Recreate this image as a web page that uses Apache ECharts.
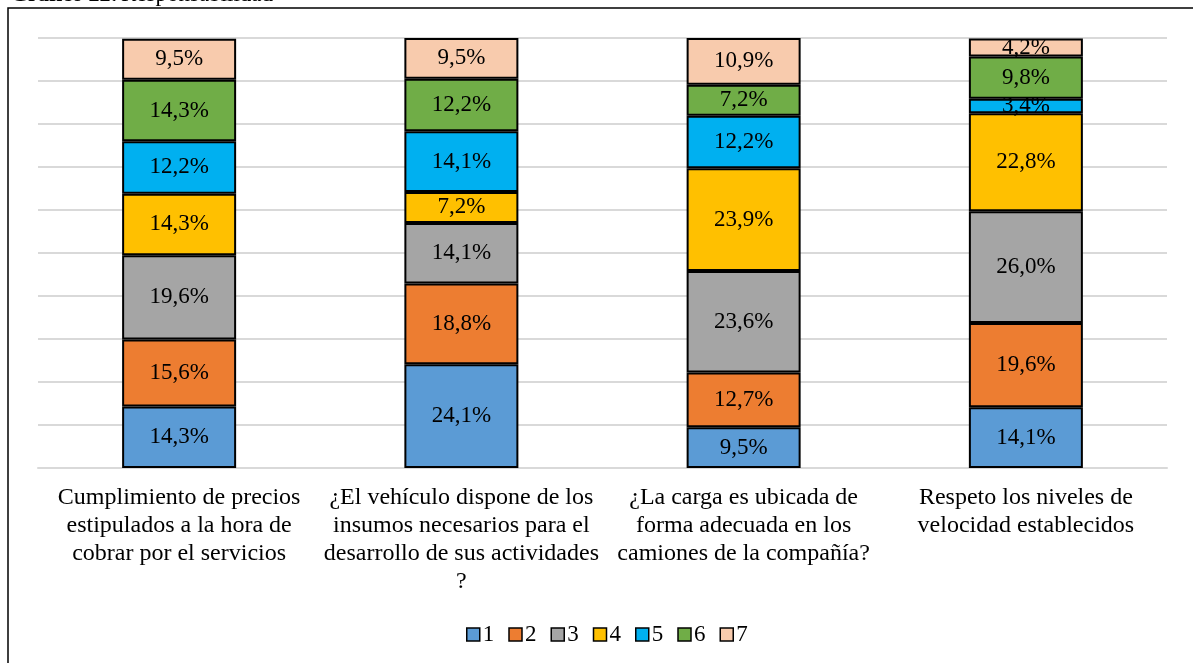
<!DOCTYPE html>
<html>
<head>
<meta charset="utf-8">
<script src="https://cdn.jsdelivr.net/npm/echarts@6/dist/echarts.min.js"></script>
<style>
html,body{margin:0;padding:0;background:#fff;}
#chart{width:1193px;height:663px;}
</style>
</head>
<body>
<div id="chart"></div>
<script>
const categories = [
  "Cumplimiento de precios\nestipulados a la hora de\ncobrar por el servicios",
  "¿El vehículo dispone de los\ninsumos necesarios para el\ndesarrollo de sus actividades\n?",
  "¿La carga es ubicada de\nforma adecuada en los\ncamiones de la compañía?",
  "Respeto los niveles de\nvelocidad establecidos"
];
const seriesNames = ["1", "2", "3", "4", "5", "6", "7"];
const s1 = [14.3, 24.1, 9.5, 14.1];
const s2 = [15.6, 18.8, 12.7, 19.6];
const s3 = [19.6, 14.1, 23.6, 26.0];
const s4 = [14.3, 7.2, 23.9, 22.8];
const s5 = [12.2, 14.1, 12.2, 3.4];
const s6 = [14.3, 12.2, 7.2, 9.8];
const s7 = [9.5, 9.5, 10.9, 4.2];
const seriesValues = [s1, s2, s3, s4, s5, s6, s7];
const colors = ["#5B9BD5", "#ED7D31", "#A5A5A5", "#FFC000", "#00B0F0", "#70AD47", "#F8CBAD"];

const FONT = "'Liberation Serif', 'Times New Roman', serif";
const chart = echarts.init(document.getElementById('chart'), null, {renderer: 'canvas'});

const series = seriesNames.map((name, i) => ({
  name: name,
  type: 'bar',
  stack: 'total',
  barWidth: 114,
  data: seriesValues[i],
  itemStyle: {color: colors[i], borderColor: '#000', borderWidth: 2},
  label: {
    show: true,
    position: 'inside',
    color: '#000',
    fontFamily: FONT,
    fontSize: 23,
    formatter: p => p.value.toFixed(1).replace('.', ',') + '%'
  }
}));

chart.setOption({
  animation: false,
  color: colors,
  graphic: [
    {type: 'rect', shape: {x: 8, y: 8, width: 1400, height: 900},
     style: {fill: 'none', stroke: '#000', lineWidth: 1.5}, z: 100},
    {type: 'text', x: 11, y: 6,
     style: {text: 'Gráfico 22:', fontWeight: 'bold', fontSize: 22, fontFamily: FONT, fill: '#000',
             align: 'left', verticalAlign: 'bottom'}},
    {type: 'text', x: 121, y: 6,
     style: {text: 'Responsabilidad', fontSize: 23, fontFamily: FONT, fill: '#000',
             align: 'left', verticalAlign: 'bottom'}}
  ],
  grid: {left: 38, right: 26, top: 38, bottom: 195, containLabel: false},
  legend: {
    bottom: 12,
    left: 461,
    itemWidth: 13,
    itemHeight: 13,
    itemGap: 14,
    icon: 'rect',
    itemStyle: {borderColor: '#000', borderWidth: 1.5},
    textStyle: {fontFamily: FONT, fontSize: 23, color: '#000', padding: [0, 0, 0, -2]},
    data: seriesNames
  },
  xAxis: {
    type: 'category',
    data: categories,
    axisLine: {lineStyle: {color: '#d9d9d9', width: 2}},
    axisTick: {show: false},
    axisLabel: {interval: 0, margin: 16, color: '#000', fontFamily: FONT, fontSize: 24, lineHeight: 28}
  },
  yAxis: {
    type: 'value',
    min: 0,
    max: 100,
    interval: 10,
    axisLabel: {show: false},
    axisLine: {show: false},
    axisTick: {show: false},
    splitLine: {lineStyle: {color: '#d9d9d9', width: 2}}
  },
  series: series
});
</script>
</body>
</html>
